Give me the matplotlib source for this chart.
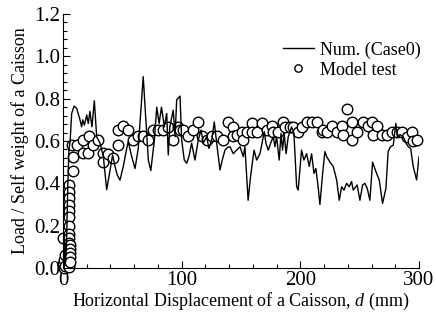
import matplotlib
matplotlib.use("Agg")
import matplotlib.pyplot as plt
from matplotlib.ticker import MultipleLocator, AutoMinorLocator

plt.rcParams['font.family'] = ['Liberation Serif', 'DejaVu Serif']
plt.rcParams['mathtext.fontset'] = 'custom'
plt.rcParams['mathtext.it'] = 'Liberation Serif:italic'
plt.rcParams['mathtext.rm'] = 'Liberation Serif'

# Numerical result (Case0)
num_d = [0, 2, 3, 4, 5, 6, 7.3, 9.3, 11.5, 14, 15.7, 16.6, 18, 20, 21.3, 22.7, 24.4, 26.4,
         28.4, 31.2, 34, 36.8, 39.6, 41.8, 43.8, 45.7, 48, 50.8, 53.7, 55, 57.9, 60.7, 63.4,
         67.6, 71.9, 74, 77, 79, 81, 83, 85.4, 87.4, 88.7, 90, 92.9, 94.4, 95.8, 98.6, 100,
         102.2, 104.2, 106.1, 108.4, 111.2, 114, 116.3, 118.2, 121, 123, 125.3, 127.5, 129.5,
         132.3, 134.2, 136.5, 138.7, 140.7, 143.5, 146.3, 149.2, 151.9, 153.3, 156, 158, 161,
         163.2, 166, 169.6, 171, 173, 175, 177.2, 178.6, 180, 182.2, 183.7, 185, 186.4, 188,
         189.8, 192.6, 194.6, 196.9, 198.2, 201, 203, 205.3, 207.5, 209.5, 211.5, 213.1, 215,
         216.5, 218.8, 220.7, 222.2, 225, 227.7, 230.6, 232.8, 234.8, 236.8, 239, 241.2, 243.2,
         244.6, 247.9, 250.2, 252.5, 254.4, 256.4, 258.6, 260.9, 263.7, 266.5, 269.3, 272.1,
         274, 276, 278.3, 280.5, 281.7, 284, 286.7, 289, 291, 293, 295.1, 298, 300]
num_v = [0.0, 0.02, 0.12, 0.38, 0.56, 0.60, 0.73, 0.765, 0.754, 0.707, 0.667, 0.70, 0.675, 0.723,
         0.683, 0.74, 0.667, 0.79, 0.62, 0.59, 0.526, 0.37, 0.46, 0.534, 0.48, 0.44, 0.415,
         0.48, 0.565, 0.597, 0.526, 0.47, 0.565, 0.904, 0.51, 0.46, 0.605, 0.76, 0.683, 0.76,
         0.667, 0.73, 0.534, 0.667, 0.746, 0.62, 0.794, 0.812, 0.605, 0.51, 0.495, 0.526, 0.59,
         0.51, 0.605, 0.652, 0.59, 0.62, 0.565, 0.605, 0.69, 0.59, 0.463, 0.51, 0.557, 0.57,
         0.573, 0.54, 0.557, 0.573, 0.526, 0.573, 0.32, 0.43, 0.557, 0.51, 0.54, 0.644, 0.59,
         0.557, 0.59, 0.62, 0.573, 0.62, 0.51, 0.636, 0.557, 0.636, 0.54, 0.62, 0.667, 0.636,
         0.384, 0.368, 0.557, 0.51, 0.54, 0.48, 0.54, 0.447, 0.47, 0.384, 0.30, 0.447, 0.55,
         0.526, 0.50, 0.48, 0.416, 0.32, 0.384, 0.368, 0.40, 0.384, 0.408, 0.368, 0.392, 0.32,
         0.392, 0.40, 0.376, 0.32, 0.50, 0.455, 0.416, 0.305, 0.376, 0.55, 0.573, 0.58, 0.683,
         0.62, 0.63, 0.62, 0.59, 0.573, 0.565, 0.48, 0.416, 0.526]

# Model test
test_d = [0, 0, 0.5, 1, 1.5, 2, 5.3, 5.3, 5.3, 5.3, 5.3, 5.3, 5.3, 5.3, 5.3, 5.3, 5.3, 5.3,
          5.3, 5.3, 5.3, 5.3, 5.8, 5.8, 5.8, 5.8, 5.8,
          7.3, 8.7, 8.7, 11.5, 16.6, 17.1, 21.3, 22.2, 25.5, 29.8, 33.4, 34, 38.2, 41.8, 46.6,
          46.6, 50.8, 55, 59.2, 63.4, 67.6, 71.9, 75.5, 80.3, 84.5, 88.7, 92.9, 97.1, 98.5,
          101.4, 105, 109.3, 113.5, 116.8, 121, 125.3, 129.5, 135, 139.3, 143, 143.5, 146.3,
          150.5, 151.9, 154.7, 159, 159, 163.2, 167.9, 171.6, 176.3, 177, 181.4, 185, 187,
          191.2, 194, 198.2, 201, 205.3, 209.5, 214.2, 218, 219.3, 222.2, 226.4, 230.6, 234.8,
          236.1, 239.5, 243.7, 243.7, 247.4, 252.5, 257.2, 260, 260.9, 264.8, 268.5, 272.7,
          276.9, 281.1, 285.3, 290, 293.7, 295.1, 298.5]
test_v = [0.14, 0.02, 0.0, 0.04, 0.01, 0.06, 0.39, 0.36, 0.33, 0.30, 0.27, 0.24, 0.20, 0.16,
          0.14, 0.12, 0.10, 0.08, 0.06, 0.04, 0.02, 0.005, 0.11, 0.09, 0.07, 0.05, 0.03,
          0.58, 0.526, 0.46, 0.58, 0.545, 0.605, 0.545, 0.625, 0.58, 0.605, 0.545, 0.50, 0.54,
          0.52, 0.58, 0.65, 0.67, 0.65, 0.605, 0.625, 0.625, 0.605, 0.65, 0.65, 0.65, 0.667,
          0.605, 0.667, 0.65, 0.65, 0.625, 0.65, 0.69, 0.625, 0.605, 0.625, 0.625, 0.605, 0.69,
          0.667, 0.625, 0.628, 0.644, 0.605, 0.644, 0.687, 0.644, 0.644, 0.687, 0.652, 0.67,
          0.644, 0.644, 0.688, 0.667, 0.667, 0.667, 0.644, 0.667, 0.688, 0.688, 0.688, 0.644,
          0.652, 0.644, 0.67, 0.644, 0.67, 0.628, 0.75, 0.688, 0.605, 0.644, 0.688, 0.67,
          0.688, 0.628, 0.67, 0.628, 0.628, 0.644, 0.644, 0.644, 0.62, 0.644, 0.60, 0.605]

x_ticks = [0, 100, 200, 300]
y_ticks = [0.0, 0.2, 0.4, 0.6, 0.8, 1.0, 1.2]

fig = plt.figure(figsize=(4.36, 3.22), dpi=100)
ax = fig.add_axes([63/436, 54/322, 356/436, 254/322])

ax.plot(num_d, num_v, color='black', lw=1.0, label='Num. (Case0)', zorder=3)
ax.plot(test_d, test_v, ls='none', marker='o', ms=7.6, mfc='white', mec='black', mew=1.0,
        label='Model test', clip_on=False, zorder=2)

ax.set_xlim(0, 300)
ax.set_ylim(0, 1.2)
ax.set_xticks(x_ticks)
ax.set_yticks(y_ticks)
ax.set_yticklabels([f"{v:.1f}" for v in y_ticks])
ax.xaxis.set_minor_locator(AutoMinorLocator(5))
ax.yaxis.set_minor_locator(AutoMinorLocator(5))
ax.tick_params(which='both', direction='in', labelsize=15, width=0.8)
ax.tick_params(which='major', length=5, pad=2)
ax.tick_params(which='minor', length=3)
for s in ['top', 'right']:
    ax.spines[s].set_visible(False)
for s in ['left', 'bottom']:
    ax.spines[s].set_linewidth(0.8)

ax.set_xlabel('Horizontal Displacement of a Caisson, $d$ (mm)', fontsize=13, labelpad=1)
ax.set_ylabel('Load / Self weight of a Caisson', fontsize=13, labelpad=4)

leg = ax.legend(loc='upper right', bbox_to_anchor=(1.025, 0.92), frameon=False, fontsize=13,
                handlelength=1.7, handletextpad=0.35, labelspacing=0.15, markerscale=0.7,
                borderaxespad=0.0)

fig.savefig('out.png', dpi=100)
